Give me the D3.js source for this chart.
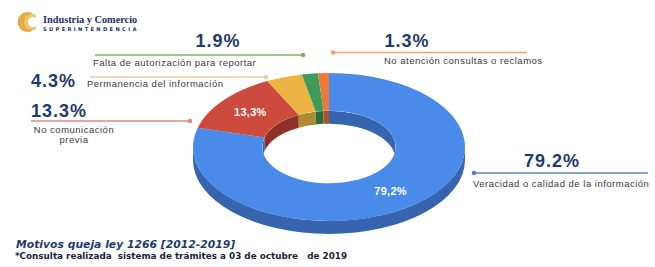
<!DOCTYPE html>
<html>
<head>
<meta charset="utf-8">
<script src="https://cdn.jsdelivr.net/npm/d3@7"></script>
<style>
  body { margin: 0; background: #fff; }
  svg { display: block; }
</style>
</head>
<body>
<div id="chart"></div>
<script>
// data
const categories = [
  "Veracidad o calidad de la información",
  "No comunicación previa",
  "Permanencia del información",
  "Falta de autorización para reportar",
  "No atención consultas o reclamos"
];
const values = [79.2, 13.3, 4.3, 1.9, 1.3];
const topColors = ["#4a8ae8", "#cc4b3d", "#eeb443", "#3d9a58", "#ef7a36"];
const sideColors = ["#3764ae", "#8e3129", "#b08a30", "#2b6b3e", "#a9552b"];
const lineColors = ["#5b82cc", "#db8a86", "#f2c7a0", "#7ab262", "#eca374"];

const title = "Motivos queja ley 1266 [2012-2019]";
const note = "*Consulta realizada  sistema de trámites a 03 de octubre   de 2019";

drawDonut();

function drawDonut() {
  const W = 655, H = 267;
  const svg = d3.select("#chart").append("svg")
    .attr("width", W).attr("height", H);

  // ellipse geometry of the tilted donut
  const cx = 329, cy = 147, rx = 136, ry = 74, ri = 0.49, depth = 13;

  const pie = d3.pie().sort(null).startAngle(0).endAngle(2 * Math.PI);
  const arcs = pie(values);

  const pt = (a, r, dy) => [cx + rx * r * Math.sin(a), cy - ry * r * Math.cos(a) + (dy || 0)];
  const f = p => p[0].toFixed(2) + "," + p[1].toFixed(2);

  function topPath(a0, a1) {
    const big = (a1 - a0) > Math.PI ? 1 : 0;
    return "M" + f(pt(a0, 1)) +
      "A" + rx + "," + ry + " 0 " + big + " 1 " + f(pt(a1, 1)) +
      "L" + f(pt(a1, ri)) +
      "A" + (rx * ri) + "," + (ry * ri) + " 0 " + big + " 0 " + f(pt(a0, ri)) + "Z";
  }
  function wallPath(a0, a1, r) {
    const big = (a1 - a0) > Math.PI ? 1 : 0;
    return "M" + f(pt(a0, r)) +
      "A" + (rx * r) + "," + (ry * r) + " 0 " + big + " 1 " + f(pt(a1, r)) +
      "L" + f(pt(a1, r, depth)) +
      "A" + (rx * r) + "," + (ry * r) + " 0 " + big + " 0 " + f(pt(a0, r, depth)) + "Z";
  }
  // clip an angle range against a window
  function clipRange(a0, a1, lo, hi) {
    const s = Math.max(a0, lo), e = Math.min(a1, hi);
    return e > s ? [s, e] : null;
  }

  svg.append("clipPath").attr("id", "hole")
    .append("ellipse")
    .attr("cx", cx).attr("cy", cy).attr("rx", rx * ri).attr("ry", ry * ri);

  // inner wall, seen through the hole (back half)
  const inner = svg.append("g").attr("clip-path", "url(#hole)");
  arcs.forEach((d, i) => {
    [[-1, Math.PI / 2], [1.5 * Math.PI, 2 * Math.PI]].forEach(w => {
      const r = clipRange(d.startAngle, d.endAngle, w[0], w[1]);
      if (r) inner.append("path").attr("d", wallPath(r[0], r[1], ri)).attr("fill", sideColors[i]);
    });
  });

  // outer wall, front half
  arcs.forEach((d, i) => {
    const r = clipRange(d.startAngle, d.endAngle, Math.PI / 2, 1.5 * Math.PI);
    if (r) svg.append("path").attr("d", wallPath(r[0], r[1], 1)).attr("fill", sideColors[i]);
  });

  // top faces
  svg.selectAll(".slice")
    .data(arcs)
    .enter().append("path")
    .attr("class", "slice")
    .attr("d", d => topPath(d.startAngle, d.endAngle))
    .attr("fill", (d, i) => topColors[i]);

  // labels in the big slices
  const comma = v => d3.format(".1f")(v).replace(".", ",") + "%";
  svg.selectAll(".inlabel")
    .data(arcs.filter(d => d.value > 10))
    .enter().append("text")
    .attr("class", "inlabel")
    .attr("x", d => pt((d.startAngle + d.endAngle) / 2, (1 + ri) / 2)[0])
    .attr("y", d => pt((d.startAngle + d.endAngle) / 2, (1 + ri) / 2)[1] + 4)
    .attr("text-anchor", "middle")
    .style("font-family", "'Liberation Sans', Arial, sans-serif")
    .style("font-weight", "bold")
    .style("font-size", "11px")
    .style("letter-spacing", "0.3px")
    .attr("fill", "#fff")
    .text(d => comma(d.value));

  // callouts: big value, leader line with dot, category text
  const callouts = [
    { vx: 552, vy: 167, va: "middle", x1: 474, x2: 648, ly: 173, dot: 474, tx: 473, ty: 187, ta: "start", lines: [categories[0]] },
    { vx: 31, vy: 117, va: "start", x1: 31, x2: 190, ly: 121, dot: 190, tx: 74, ty: 133, ta: "middle", lines: ["No comunicación", "previa"] },
    { vx: 31, vy: 87, va: "start", x1: 90, x2: 266, ly: 77, dot: 266, tx: 87, ty: 87, ta: "start", lines: [categories[2]] },
    { vx: 218, vy: 47, va: "middle", x1: 95, x2: 303, ly: 55, dot: 303, tx: 93, ty: 66, ta: "start", lines: [categories[3]] },
    { vx: 407, vy: 47, va: "middle", x1: 333, x2: 527, ly: 52.5, dot: 333, tx: 384, ty: 64, ta: "start", lines: [categories[4]] }
  ];

  callouts.forEach((c, i) => {
    const g = svg.append("g");
    g.append("line")
      .attr("x1", c.x1).attr("x2", c.x2).attr("y1", c.ly).attr("y2", c.ly)
      .attr("stroke", lineColors[i]).attr("stroke-width", 1.4);
    g.append("circle").attr("cx", c.dot).attr("cy", c.ly).attr("r", 2.3).attr("fill", lineColors[i]);
    g.append("text")
      .attr("x", c.vx).attr("y", c.vy)
      .attr("text-anchor", c.va)
      .style("font-family", "'Liberation Sans', Arial, sans-serif")
      .style("font-weight", "bold")
      .style("font-size", "18px")
      .style("letter-spacing", "1px")
      .attr("fill", "#1f3a6e")
      .text(d3.format(".1f")(values[i]) + "%");
    c.lines.forEach((t, k) => {
      g.append("text")
        .attr("x", c.tx).attr("y", c.ty + k * 9.5)
        .attr("text-anchor", c.ta)
        .style("font-family", "'Liberation Sans', Arial, sans-serif")
        .style("font-size", "9.5px")
        .style("letter-spacing", "0.5px")
        .attr("fill", "#3a3a3a")
        .text(t);
    });
  });

  // logo
  const logo = svg.append("g");
  logo.append("path")
    .attr("d", "M32,13 A10,10 0 1 0 32,31 L32,27 A6,6 0 1 1 32,17 Z")
    .attr("fill", "#e3ad4c");
  logo.append("rect").attr("x", 22).attr("y", 17).attr("width", 4).attr("height", 14).attr("fill", "#e3ad4c");
  logo.append("path")
    .attr("d", "M36,15 A8,8 0 1 0 36,29 L36,26 A5,5 0 1 1 36,18 Z")
    .attr("fill", "#f0c46a");
  logo.append("text")
    .attr("x", 43).attr("y", 23)
    .style("font-family", "'Liberation Serif', 'DejaVu Serif', serif")
    .style("font-weight", "bold")
    .style("font-size", "10.3px")
    .attr("fill", "#1f2f66")
    .text("Industria y Comercio");
  logo.append("text")
    .attr("x", 43).attr("y", 30.5)
    .style("font-family", "'DejaVu Sans', sans-serif")
    .style("font-weight", "bold")
    .style("font-size", "5.2px")
    .style("letter-spacing", "2.3px")
    .attr("fill", "#1f2f66")
    .text("SUPERINTENDENCIA");

  // footer
  svg.append("text")
    .attr("x", 16).attr("y", 248)
    .style("font-family", "'DejaVu Sans', Verdana, sans-serif")
    .style("font-weight", "bold")
    .style("font-style", "italic")
    .style("font-size", "10.8px")
    .attr("fill", "#1f3a6e")
    .text(title);
  svg.append("text")
    .attr("x", 15).attr("y", 258.5)
    .attr("xml:space", "preserve")
    .style("white-space", "pre")
    .style("font-family", "'DejaVu Sans', Verdana, sans-serif")
    .style("font-weight", "bold")
    .style("font-size", "8.8px")
    .attr("fill", "#1a2540")
    .text(note);
}
</script>
</body>
</html>
